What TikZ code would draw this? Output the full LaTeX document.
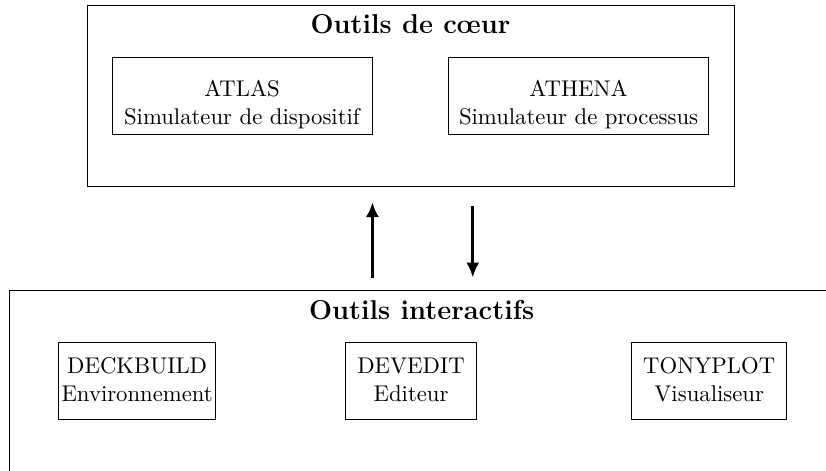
\documentclass[tikz,border=0pt]{standalone}
\usepackage{tikz}
\usetikzlibrary{arrows.meta,positioning}

\begin{document}
\begin{tikzpicture}[x=0.44pt,y=-0.44pt,
  bloc/.style={rectangle,draw,inner sep=0pt},
  titre/.style={font=\large\bfseries,inner sep=0pt,anchor=base},
  simu/.style={rectangle,draw,align=center,inner sep=0pt,text width=114.4pt,text height=17.6pt,text depth=16.3pt},
  outil/.style={rectangle,draw,align=center,inner sep=0pt,text height=14pt,text depth=19.9pt},
  arr/.style={-{Latex[length=6.6pt,width=5.8pt]},line width=1.3pt}]

  \useasboundingbox (0,0) rectangle (826,470);
  \clip (0,0) rectangle (826,470);

  % outils de coeur
  \node[bloc,minimum width=284.7pt,minimum height=79.6pt] (coeur) at (410.5,95.5) {};
  \node[titre] (tcoeur) at ([yshift=-12.6pt]coeur.north) {Outils de cœur};
  \node[simu,right=11pt of coeur.west] (atlas) {ATLAS\\Simulateur de dispositif};
  \node[simu,left=11.2pt of coeur.east] (athena) {ATHENA\\Simulateur de processus};

  % outils interactifs
  \node[bloc,minimum width=363pt,minimum height=132pt] (inter) at (421.7,440) {};
  \node[titre] (tinter) at ([yshift=-13pt]inter.north) {Outils interactifs};
  \node[outil,text width=57.6pt,below=22.9pt of inter.north,xshift=-4.7pt] (devedit) {DEVEDIT\\Editeur};
  \node[outil,text width=69pt,left=56.8pt of devedit] (deckbuild) {DECKBUILD\\Environnement};
  \node[outil,text width=68.2pt,right=67.9pt of devedit] (tonyplot) {TONYPLOT\\Visualiseur};

  % echanges
  \draw[arr,shorten <=5.3pt,shorten >=6.9pt] (atlas.east |- inter.north) -- (atlas.east |- coeur.south);
  \draw[arr,shorten <=8.8pt,shorten >=5.3pt] ([xshift=27.4pt]coeur.south) -- ([xshift=27.4pt]coeur.south |- inter.north);
\end{tikzpicture}
\end{document}
